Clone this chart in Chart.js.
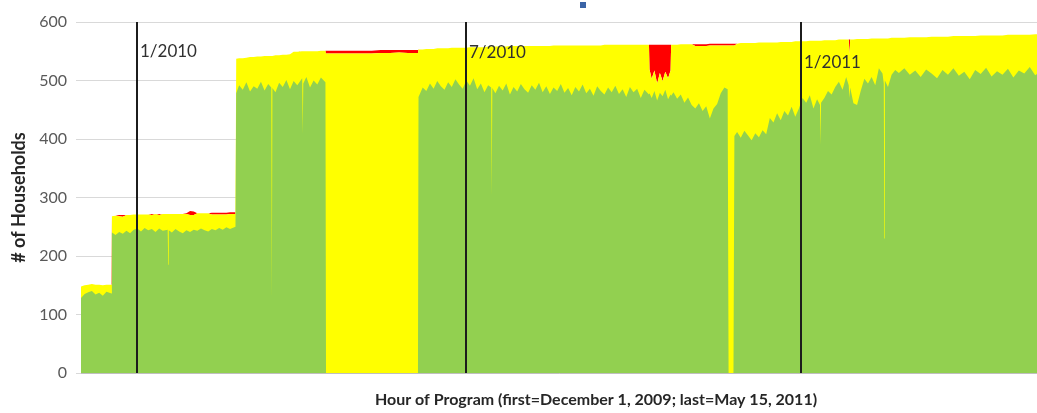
<!DOCTYPE html>
<html>
<head>
<meta charset="utf-8">
<title># of Households by Hour of Program</title>
<script src="https://cdn.jsdelivr.net/npm/chart.js@4.4.1/dist/chart.umd.min.js"></script>
<style>
	html, body { margin: 0; padding: 0; background: #fff; }
	#wrap { width: 1037px; height: 413px; }
</style>
</head>
<body>
<div id="wrap"><canvas id="householdsChart" width="1037" height="413"></canvas></div>
<script>
// days since December 1, 2009 (hour of program / 24)
const day = [
	0, 2, 4, 6, 8, 10, 12, 14, 16.8,
	17.0, 19, 21, 23, 25, 27, 29, 31, 33, 35, 37, 39, 41, 43, 45, 47.7, 48.0, 48.3,
	50, 52, 54, 56, 58, 60, 62, 64, 66, 68, 70, 72, 74, 76, 78, 80, 82, 85.0,
	85.4, 87, 89, 91, 93, 95, 97, 99, 101, 103, 104.7, 105.0, 105.3,
	107, 109, 111, 113, 115, 117, 119, 121.7, 122.0, 122.3, 124, 126, 128, 130, 132, 134.5,
	134.8, 140, 145, 150, 155, 160, 165, 170, 175, 180, 185.4,
	185.7, 188,
	190, 192, 194, 196, 198, 200, 202, 204, 206, 208, 210, 212, 214, 216, 218, 220, 222, 224,
	225.7, 226.0, 226.3,
	228, 230, 232, 234, 236, 238, 240, 242, 244, 246, 248, 250, 252, 254, 256, 258, 260, 262, 264, 266,
	268, 270, 272, 274, 276, 278, 280, 282, 284, 286, 288, 290, 292, 294, 296, 298, 300, 302, 304, 306,
	308, 310, 312.5,
	312.8, 314, 315.5, 317, 318.5, 320, 321.5, 323, 324.4,
	324.7, 326, 328, 330, 332, 334, 336, 338, 340, 342, 344, 346, 348, 350, 352, 354, 355.8,
	356.3, 359.0,
	359.5, 361, 363, 365, 367, 369, 371, 373, 375, 377, 379, 381, 383, 385, 387, 389, 391, 393, 395,
	397, 399, 401, 403, 405, 406.6, 406.9, 407.2, 409, 411,
	413, 415, 417, 419, 421, 422.4, 422.8, 423.2, 425, 427,
	429, 431, 433, 435, 437, 439, 441, 441.7, 442.0, 442.3,
	444, 446, 448, 450, 453, 456, 459, 462, 465, 468,
	471, 474, 477, 480, 483, 486, 489, 492, 495, 498,
	501, 504, 507, 510, 513, 516, 519, 522, 525, 528,
	530
];

// households in the green band
const green = [
	128, 135, 138, 140, 134, 137, 132, 139, 136,
	240, 236, 241, 238, 243, 239, 245, 247, 242, 248, 244, 246, 241, 247, 243, 245, 185, 244,
	240, 246, 242, 239, 244, 241, 245, 243, 247, 244, 242, 246, 244, 248, 245, 249, 246, 250,
	478, 492, 484, 497, 481, 490, 486, 498, 483, 494, 488, 125, 487,
	480, 496, 489, 501, 485, 499, 492, 504, 410, 495, 506, 488, 500, 493, 505, 497,
	0, 0, 0, 0, 0, 0, 0, 0, 0, 0, 0,
	472, 488,
	482, 495, 486, 499, 490, 484, 497, 489, 502, 493, 486, 500, 491, 504, 485, 495, 480, 492,
	488, 305, 487,
	478, 491, 483, 495, 476, 489, 481, 494, 485, 479, 492, 484, 496, 480, 490, 477, 488, 482, 494, 479,
	487, 475, 489, 481, 493, 478, 486, 474, 490, 482, 476, 488, 480, 491, 477, 485, 472, 489, 480, 486,
	470, 484, 476,
	478, 470, 482, 466, 479, 473, 484, 468, 476,
	474, 480, 469, 476, 462, 471, 458, 452, 461, 448, 456, 435, 452, 460, 478, 488, 485,
	0, 0,
	405, 412, 402, 414, 406, 398, 410, 403, 415, 408, 436, 428, 444, 432, 448, 440, 455, 438, 452,
	470, 462, 475, 452, 468, 458, 390, 462, 470, 482,
	476, 489, 498, 484, 506, 492, 470, 488, 461, 458,
	482, 503, 495, 506, 492, 521, 512, 495, 230, 500,
	489, 510, 518, 513, 521, 510, 517, 506, 519, 512,
	504, 518, 510, 521, 508, 515, 502, 518, 511, 522,
	507, 516, 510, 520, 505, 517, 512, 523, 509, 515,
	511
];

// all households (top of the stack)
const total = [
	148, 150, 151, 152, 151, 151, 150, 151, 151,
	268, 269, 270, 270, 270, 270, 271, 271, 271, 271, 271, 272, 272, 272, 272, 272, 272, 272,
	272, 272, 272, 272, 273, 277, 276, 273, 273, 273, 273, 274, 274, 274, 274, 274, 275, 275,
	537, 538, 538, 539, 540, 540, 541, 541, 542, 542, 542, 542, 542,
	543, 543, 544, 544, 545, 549, 549, 550, 550, 550, 550, 550, 550, 550, 551, 551,
	551, 551, 551, 551, 551, 551, 552, 552, 552, 552, 552,
	553, 553,
	554, 554, 554, 555, 555, 555, 555, 556, 556, 556, 556, 556, 557, 557, 557, 557, 557, 558,
	558, 558, 558,
	558, 558, 558, 558, 559, 559, 559, 559, 559, 559, 559, 559, 559, 559, 559, 559, 560, 560, 560, 560,
	560, 560, 560, 560, 560, 560, 560, 560, 560, 560, 561, 561, 561, 561, 561, 561, 561, 561, 561, 561,
	561, 561, 561,
	561, 561, 561, 561, 561, 561, 561, 561, 561,
	561, 561, 561, 562, 562, 562, 562, 562, 562, 562, 562, 563, 563, 563, 563, 563, 563,
	563, 563,
	563, 563, 564, 564, 564, 564, 564, 565, 565, 565, 565, 565, 565, 566, 566, 566, 566, 567, 567,
	567, 567, 568, 568, 568, 568, 568, 568, 569, 569,
	569, 569, 570, 570, 570, 570, 570, 570, 570, 571,
	571, 571, 571, 572, 572, 572, 572, 572, 572, 572,
	572, 573, 573, 573, 573, 574, 574, 574, 574, 575,
	575, 575, 575, 576, 576, 576, 576, 576, 577, 577,
	577, 577, 577, 578, 578, 578, 578, 578, 579, 579,
	579
];

// households in the red band (sits on top of yellow)
const red = [
	0, 0, 0, 0, 0, 0, 0, 0, 0,
	0, 0, 2, 3, 0, 0, 0, 0, 0, 0, 0, 2, 0, 2, 0, 0, 0, 0,
	0, 0, 0, 0, 1, 7, 6, 0, 0, 0, 0, 3, 3, 3, 3, 3, 3, 3,
	0, 0, 0, 0, 0, 0, 0, 0, 0, 0, 0, 0, 0,
	0, 0, 0, 0, 0, 0, 0, 0, 0, 0, 0, 0, 0, 0, 0, 0,
	5, 5, 5, 5, 5, 5, 5, 5, 4, 5, 5,
	0, 0,
	0, 0, 0, 0, 0, 0, 0, 0, 0, 0, 0, 0, 0, 0, 0, 0, 0, 0,
	0, 0, 0,
	0, 0, 0, 0, 0, 0, 0, 0, 0, 0, 0, 0, 0, 0, 0, 0, 0, 0, 0, 0,
	0, 0, 0, 0, 0, 0, 0, 0, 0, 0, 0, 0, 0, 0, 0, 0, 0, 0, 0, 0,
	0, 0, 0,
	42, 58, 44, 66, 48, 62, 46, 57, 44,
	0, 0, 0, 0, 0, 0, 0, 3, 3, 3, 3, 3, 3, 3, 3, 3, 3,
	3, 3,
	3, 0, 0, 0, 0, 0, 0, 0, 0, 0, 0, 0, 0, 0, 0, 0, 0, 0, 0,
	0, 0, 0, 0, 0, 0, 0, 0, 0, 0,
	0, 0, 0, 0, 0, 0, 26, 0, 0, 0,
	0, 0, 0, 0, 0, 0, 0, 0, 0, 0,
	0, 0, 0, 0, 0, 0, 0, 0, 0, 0,
	0, 0, 0, 0, 0, 0, 0, 0, 0, 0,
	0, 0, 0, 0, 0, 0, 0, 0, 0, 0,
	0
];

const yTicks = [0, 100, 200, 300, 400, 500, 600];

// month markers: Jan 1 2010, Jul 1 2010, Jan 1 2011
const markerDays = [31, 212, 396];
const markerLabels = ['1/2010', '7/2010', '1/2011'];

const xTitle = 'Hour of Program (first=December 1, 2009; last=May 15, 2011)';

(() => {
	'use strict'

	if (green.length !== day.length || total.length !== day.length || red.length !== day.length) {
		throw new Error(`length mismatch: day ${day.length}, green ${green.length}, total ${total.length}, red ${red.length}`);
	}

	const markerLabelLevels = [549, 547, 530];

	const markerPlugin = {
		id: 'monthMarkers',
		afterDatasetsDraw(chart) {
			const { ctx, chartArea, scales: { x, y } } = chart;
			ctx.save();
			ctx.strokeStyle = '#1c1c1c';
			ctx.lineWidth = 2;
			ctx.font = '17px Lato';
			ctx.fillStyle = '#303030';
			ctx.textBaseline = 'middle';
			markerDays.forEach((d, i) => {
				const px = Math.round(x.getPixelForValue(d));
				ctx.beginPath();
				ctx.moveTo(px, chartArea.top);
				ctx.lineTo(px, chartArea.bottom);
				ctx.stroke();
				ctx.fillText(markerLabels[i], px + 3, y.getPixelForValue(markerLabelLevels[i]));
			});
			ctx.restore();
		},
		afterDraw(chart) {
			const { ctx } = chart;
			ctx.save();
			// the source plot is wider than this crop, so its axis title sits right of centre
			ctx.font = 'bold 16px Lato';
			ctx.fillStyle = '#262626';
			ctx.textAlign = 'center';
			ctx.textBaseline = 'middle';
			ctx.fillText(xTitle, 596, 400);
			// stray legend swatch above the plot
			ctx.fillStyle = '#3b64a6';
			ctx.fillRect(580, 2, 6, 6);
			ctx.restore();
		}
	};

	const ctx = document.getElementById('householdsChart');

	new Chart(ctx, {
		type: 'line',
		data: {
			datasets: [
				{
					label: 'Green',
					data: day.map((d, i) => ({ x: d, y: green[i] })),
					backgroundColor: '#92d050',
					borderWidth: 0,
					pointRadius: 0,
					fill: 'origin'
				},
				{
					label: 'Yellow',
					data: day.map((d, i) => ({ x: d, y: total[i] - red[i] })),
					backgroundColor: '#ffff00',
					borderWidth: 0,
					pointRadius: 0,
					fill: 'origin'
				},
				{
					label: 'Red',
					data: day.map((d, i) => ({ x: d, y: total[i] })),
					backgroundColor: '#ff0000',
					borderWidth: 0,
					pointRadius: 0,
					fill: 1
				}
			]
		},
		options: {
			responsive: false,
			devicePixelRatio: 1,
			animation: false,
			layout: {
				padding: { top: 22, right: 0, bottom: 0, left: 0 }
			},
			elements: {
				line: { tension: 0 }
			},
			plugins: {
				legend: { display: false },
				tooltip: { enabled: false }
			},
			scales: {
				x: {
					type: 'linear',
					min: 0,
					max: 526,
					ticks: { display: false },
					grid: { display: false },
					border: { color: '#bfbfbf', width: 1 },
					title: { display: false },
					afterFit(scale) {
						scale.height = 40;
					}
				},
				y: {
					min: 0,
					max: 600,
					afterBuildTicks(scale) {
						scale.ticks = yTicks.map((v) => ({ value: v }));
					},
					ticks: {
						color: '#595959',
						font: { family: 'Lato', size: 16 },
						padding: 9
					},
					grid: {
						color: '#d9d9d9',
						tickLength: 5
					},
					border: { display: false },
					title: {
						display: true,
						text: '# of Households',
						color: '#262626',
						font: { family: 'Lato', size: 18, weight: 'bold' },
						padding: { top: 8, bottom: 0 }
					},
					afterFit(scale) {
						scale.width = 81;
					}
				}
			}
		},
		plugins: [markerPlugin]
	});
})()
</script>
</body>
</html>
